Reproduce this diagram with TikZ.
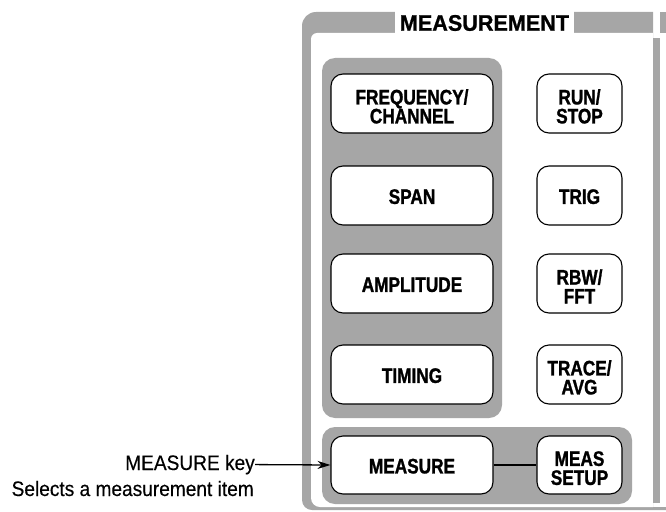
\documentclass[tikz,border=0pt]{standalone}
\usepackage{fontspec}
\setmainfont{Liberation Sans}
\newfontfamily\btnfont{Liberation Sans Bold}[FakeStretch=0.82,FakeBold=1.2]
\newfontfamily\ttlfont{Liberation Sans Bold}[FakeStretch=0.96,FakeBold=1]
\newfontfamily\lblfont{Liberation Sans}[FakeStretch=0.91,FakeBold=0.3]
\usetikzlibrary{arrows.meta}
\definecolor{pgray}{RGB}{166,166,166}
\newcommand{\twoline}[2]{\rule{0pt}{21pt}#1\\#2}
\newcommand{\oneline}[1]{\rule{0pt}{17pt}#1}
\begin{document}
\begin{tikzpicture}[x=1pt,y=-1pt,
  bigkey/.style={draw=black, line width=1.1pt, fill=white, rounded corners=12pt,
    minimum width=162pt, minimum height=59pt, inner sep=0pt, align=center,
    font=\btnfont\fontsize{21}{19}\selectfont},
  smallkey/.style={bigkey, minimum width=85pt},
  lbl/.style={font=\lblfont\fontsize{21}{24}\selectfont, inner sep=0pt},
  grp/.style={fill=pgray, rounded corners=13pt}
]
\useasboundingbox (0,0) rectangle (666,511);
% outer frame
\fill[pgray] (653,12) [rounded corners=14pt]-- (302,12) [rounded corners=10pt]-- (302,510) [sharp corners]-- (666,510) -- (666,507) -- (653,507) -- cycle;
\fill[white] (653,33) [rounded corners=6pt]-- (311,33) [rounded corners=9pt]-- (311,507) [sharp corners]-- (653,507) -- cycle;
\fill[pgray] (653,38) rectangle (660,503);
\fill[pgray] (660,12) rectangle (666,33);
\node[fill=white, inner xsep=5pt, inner ysep=0pt, minimum height=23pt,
  font=\ttlfont\fontsize{22.5}{22}\selectfont] (title) at (484.5,23) {MEASUREMENT};
% groups
\fill[grp] (322,58) rectangle (502,418);
\fill[grp] (322,427) rectangle (632,504);
% keys
\node[bigkey] (freq) at (412,103.5) {\twoline{FREQUENCY/}{CHANNEL}};
\node[bigkey] (span) at (412,195.5) {\oneline{SPAN}};
\node[bigkey] (ampl) at (412,283.5) {\oneline{AMPLITUDE}};
\node[bigkey] (timing) at (412,374.5) {\oneline{TIMING}};
\node[bigkey, minimum height=58pt] (measure) at (412,465) {\oneline{MEASURE}};
\node[smallkey] (run) at (579.5,103.5) {\twoline{RUN/}{STOP}};
\node[smallkey] (trig) at (579.5,195.5) {\oneline{TRIG}};
\node[smallkey] (rbw) at (579.5,283.5) {\twoline{RBW/}{FFT}};
\node[smallkey] (trace) at (579.5,374.5) {\twoline{TRACE/}{AVG}};
\node[smallkey, minimum height=58pt] (setup) at (579.5,465) {\twoline{MEAS}{SETUP}};
\draw[line width=2.5pt] (measure.east) -- (setup.west);
% labels
\node[lbl, anchor=base east] (keylbl) at (255,470) {MEASURE key};
\node[lbl, anchor=base east] (desc) at (254,496) {Selects a measurement item};
\draw[-{Stealth[length=13pt,width=8pt]}, line width=1.3pt] (keylbl.east) -- (measure.west);
\end{tikzpicture}
\end{document}
